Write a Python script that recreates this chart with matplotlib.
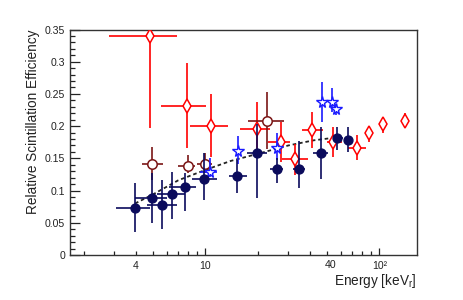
import matplotlib
matplotlib.use("Agg")
import matplotlib.pyplot as plt
import matplotlib.transforms as mtransforms
from matplotlib.ticker import FixedLocator, FuncFormatter
import numpy as np

plt.rcParams['font.family'] = ['Liberation Sans', 'DejaVu Sans']
plt.rcParams['mathtext.fontset'] = 'custom'
plt.rcParams['mathtext.rm'] = 'Liberation Sans'
plt.rcParams['mathtext.it'] = 'Liberation Sans:italic'

# ---- data (energy keVr, quenching) ----
navy_E    = [3.94, 4.92, 5.66, 6.41, 7.65, 9.87, 15.3, 19.7, 25.7, 34.7, 46.0, 57.4, 66.4]
navy_Elo  = [3.06, 3.94, 4.60, 5.30, 6.20, 8.35, 13.6, 17.3, 23.5, 32.0, 41.7, 54.3, 63.5]
navy_Ehi  = [4.81, 6.00, 6.85, 7.60, 8.90, 11.6, 17.3, 22.5, 28.1, 37.5, 50.9, 62.0, 69.5]
navy_Q    = [0.0725, 0.088, 0.0776, 0.0947, 0.105, 0.118, 0.123, 0.158, 0.133, 0.133, 0.159, 0.181, 0.1785]
navy_Qlo  = [0.036, 0.049, 0.041, 0.056, 0.069, 0.085, 0.097, 0.088, 0.111, 0.1035, 0.1175, 0.163, 0.160]
navy_Qhi  = [0.111, 0.127, 0.116, 0.129, 0.127, 0.158, 0.147, 0.204, 0.150, 0.177, 0.198, 0.199, 0.199]

star_E    = [10.6, 15.5, 25.7, 46.7, 53.2, 56.4]
star_Elo  = [9.3, 14.8, 24.4, 45.5, 52.0, 55.5]
star_Ehi  = [11.6, 16.3, 27.0, 48.0, 54.5, 57.5]
star_Q    = [0.129, 0.162, 0.166, 0.237, 0.238, 0.226]
star_Qlo  = [0.1215, 0.142, 0.147, 0.207, 0.222, 0.217]
star_Qhi  = [0.150, 0.185, 0.189, 0.269, 0.259, 0.235]

dia_E     = [4.81, 7.82, 10.78, 19.7, 27.2, 32.8, 40.8, 54.0, 74.1, 87.7, 105.5, 140.6]
dia_Elo   = [2.80, 5.60, 8.17, 15.8, 23.0, 27.5, 35.8, 49.8, 66.4, 84.5, 101.5, 135.0]
dia_Ehi   = [6.85, 10.1, 13.5, 23.5, 30.6, 39.0, 47.6, 60.8, 84.1, 91.0, 110.0, 146.0]
dia_Q     = [0.3404, 0.2317, 0.2007, 0.195, 0.176, 0.149, 0.194, 0.175, 0.1656, 0.189, 0.204, 0.2085]
dia_Qlo   = [0.197, 0.1656, 0.1526, 0.160, 0.145, 0.124, 0.1656, 0.1526, 0.147, 0.176, 0.189, 0.199]
dia_Qhi   = [0.350, 0.2975, 0.250, 0.238, 0.207, 0.173, 0.2224, 0.199, 0.186, 0.199, 0.212, 0.220]

circ_E    = [4.92, 7.92, 9.96, 22.6]
circ_Elo  = [4.30, 7.00, 8.93, 17.7]
circ_Ehi  = [5.74, 8.72, 10.9, 28.5]
circ_Q    = [0.142, 0.138, 0.142, 0.208]
circ_Qlo  = [0.116, 0.127, 0.127, 0.165]
circ_Qhi  = [0.168, 0.155, 0.158, 0.2535]

fit_E = [3.95, 5.0, 7.0, 10.0, 14.0, 20.0, 30.0, 42.0, 55.0]
fit_Q = [0.080, 0.094, 0.116, 0.132, 0.146, 0.157, 0.170, 0.178, 0.182]

x_major = [10, 100]
x_major_labels = ['10', '10\u00b2']
x_minor = [2, 3, 4, 5, 6, 7, 8, 9, 20, 30, 40, 50, 60, 70, 80, 90]
x_minor_labels = {4: '4', 40: '40'}
y_ticks = [0, 0.05, 0.1, 0.15, 0.2, 0.25, 0.3, 0.35]
y_labels = ['0', '0.05', '0.1', '0.15', '0.2', '0.25', '0.3', '0.35']


def err(c, lo, hi):
    c = np.asarray(c); lo = np.asarray(lo); hi = np.asarray(hi)
    return np.vstack([c - lo, hi - c])


fig = plt.figure(figsize=(4.63, 3.0), dpi=100)
ax = fig.add_axes([70/463, 45/300, (416.7-70)/463, (255-29.5)/300])
ax.set_xscale('log')
ax.set_xlim(1.669, 164)
ax.set_ylim(0, 0.35)

ax.plot(fit_E, fit_Q, color='#222222', lw=1.3, ls=(0, (2, 1.6)), zorder=2)

lw = 1.2
ax.errorbar(dia_E, dia_Q, xerr=err(dia_E, dia_Elo, dia_Ehi), yerr=err(dia_Q, dia_Qlo, dia_Qhi),
            fmt='d', color='#ff0000', mfc='white', mec='#ff0000', ms=7.2, mew=1.1,
            elinewidth=lw, capsize=0, zorder=3)
ax.errorbar(circ_E, circ_Q, xerr=err(circ_E, circ_Elo, circ_Ehi), yerr=err(circ_Q, circ_Qlo, circ_Qhi),
            fmt='o', color='#7a1515', mfc='white', mec='#7a1515', ms=6.8, mew=1.1,
            elinewidth=lw, capsize=0, zorder=4)
ax.errorbar(star_E, star_Q, xerr=err(star_E, star_Elo, star_Ehi), yerr=err(star_Q, star_Qlo, star_Qhi),
            fmt='*', color='#1a1aff', mfc='white', mec='#1a1aff', ms=8.5, mew=1.0,
            elinewidth=lw, capsize=0, zorder=5)
ax.errorbar(navy_E, navy_Q, xerr=err(navy_E, navy_Elo, navy_Ehi), yerr=err(navy_Q, navy_Qlo, navy_Qhi),
            fmt='o', color='#0b0b5c', mfc='#0b0b5c', mec='#0b0b5c', ms=6.4,
            elinewidth=lw, capsize=0, zorder=6)

# axes styling (ROOT-like)
for s in ax.spines.values():
    s.set_linewidth(1.0)
    s.set_color('#333333')

ax.xaxis.set_major_locator(FixedLocator(x_major))
ax.xaxis.set_major_formatter(FuncFormatter(lambda v, p: x_major_labels[0] if abs(v-10) < 1e-6 else x_major_labels[1]))
ax.xaxis.set_minor_locator(FixedLocator(x_minor))
ax.xaxis.set_minor_formatter(FuncFormatter(lambda v, p: x_minor_labels.get(int(round(v)), '')))
ax.set_yticks(y_ticks)
ax.set_yticklabels(y_labels)
ax.yaxis.set_minor_locator(FixedLocator(np.arange(0, 0.351, 0.01)))

ax.tick_params(axis='both', which='both', direction='in', top=False, right=False,
               labelsize=7.6, colors='#222222', width=0.9)
ax.tick_params(axis='x', which='major', length=5, pad=4.0)
ax.tick_params(axis='x', which='minor', length=3, pad=4.0)
ax.tick_params(axis='y', which='major', length=7, pad=3.5)
ax.tick_params(axis='y', which='minor', length=3.5)

# shift the "40" label to the right as in the reference
offset = mtransforms.ScaledTranslation(20/100, 1/100, fig.dpi_scale_trans)
fig.canvas.draw()
for lbl in ax.xaxis.get_minorticklabels():
    if lbl.get_text() == '40':
        lbl.set_transform(lbl.get_transform() + offset)

fig.text(33/463, 1 - 29/300, 'Relative Scintillation Efficiency', rotation=90,
         ha='center', va='top', fontsize=9.8, color='#222222')
fig.text(417/463, 1 - 285.5/300, r'Energy [keV$_{\mathrm{r}}$]', ha='right', va='baseline',
         fontsize=9.8, color='#222222')

fig.savefig('out.png', dpi=100)
